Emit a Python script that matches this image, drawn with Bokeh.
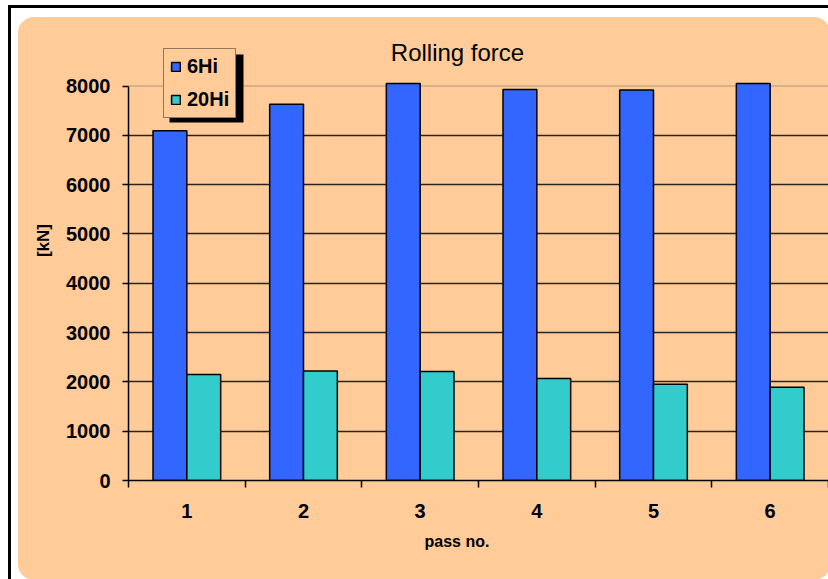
import math
from bokeh.plotting import figure
from bokeh.models import (ColumnDataSource, FixedTicker, Legend, LegendItem, Label,
                          BoxAnnotation, Span, Range1d, Title)
from bokeh.transform import dodge
from bokeh.embed import file_html
from bokeh.resources import INLINE

# ---- data ----
passes = [1, 2, 3, 4, 5, 6]
force_6hi = [7090, 7630, 8050, 7930, 7920, 8050]
force_20hi = [2150, 2220, 2210, 2070, 1950, 1890]
series_names = ["6Hi", "20Hi"]
y_ticks = [0, 1000, 2000, 3000, 4000, 5000, 6000, 7000, 8000]
title_text = "Rolling force"
y_label = "[kN]"
x_label = "pass no."

PEACH = "#FFCC99"
BLUE = "#3366FF"
CYAN = "#33CCCC"
FONT = "Liberation Sans"

# layout (pixels)
W, H = 828, 579
FRAME_LEFT, FRAME_BOTTOM, TOP_TICK_PX = 128, 480, 85.5
y_top = y_ticks[-1] * FRAME_BOTTOM / (FRAME_BOTTOM - TOP_TICK_PX)

def y_at(px):
    return (FRAME_BOTTOM - px) * y_top / FRAME_BOTTOM

def x_at(px):
    return 0.5 + (px - FRAME_LEFT) * 6 / (W - FRAME_LEFT)

# page background: white, black frame lines, peach rounded panel (CSS layers)
P = PEACH
bg_images = [
    f"radial-gradient(circle at 100% 100%, {P} 15.5px, transparent 16.5px)",
    f"radial-gradient(circle at 0% 100%, {P} 15.5px, transparent 16.5px)",
    f"radial-gradient(circle at 100% 0%, {P} 15.5px, transparent 16.5px)",
    f"radial-gradient(circle at 0% 0%, {P} 15.5px, transparent 16.5px)",
    f"linear-gradient({P}, {P})",
    f"linear-gradient({P}, {P})",
    "linear-gradient(#000, #000)",
    "linear-gradient(#000, #000)",
]
bg_pos = ["18px 17px", "814px 17px", "18px 564px", "814px 564px",
          "34px 17px", "18px 33px", "8px 5px", "8px 5px"]
bg_size = ["16px 16px", "16px 16px", "16px 16px", "16px 16px",
           "780px 563px", "812px 531px", "3px 2000px", "2000px 3px"]

src = ColumnDataSource(dict(x=passes, a=force_6hi, b=force_20hi))

p = figure(width=W, height=H, output_backend="svg", toolbar_location=None,
           x_range=Range1d(0.5, 6.5), y_range=Range1d(0, y_top),
           min_border_left=FRAME_LEFT, min_border_right=0, min_border_top=0,
           min_border_bottom=H - FRAME_BOTTOM,
           border_fill_color=None, background_fill_color=None, outline_line_color=None,
           styles={"background-color": "white",
                   "background-image": ", ".join(bg_images),
                   "background-position": ", ".join(bg_pos),
                   "background-size": ", ".join(bg_size),
                   "background-repeat": "no-repeat"})
p.title.visible = False

# grid
p.xgrid.visible = False
p.ygrid.ticker = FixedTicker(ticks=y_ticks[1:-1])
p.ygrid.grid_line_color = "#2a2420"
p.ygrid.grid_line_width = 1.3
p.add_layout(Span(location=y_ticks[-1], dimension="width", line_color="#b39377",
                  line_width=1, level="underlay"))

# bars
r1 = p.vbar(x=dodge("x", -0.145, range=p.x_range), top="a", width=0.29, source=src,
            fill_color=BLUE, line_color="black", line_width=1.5)
r2 = p.vbar(x=dodge("x", 0.145, range=p.x_range), top="b", width=0.29, source=src,
            fill_color=CYAN, line_color="black", line_width=1.5)

# axes
p.yaxis.ticker = FixedTicker(ticks=y_ticks)
p.yaxis.bounds = (y_ticks[0], y_ticks[-1])
p.yaxis.major_tick_out = 6
p.yaxis.major_tick_in = 0
p.yaxis.minor_tick_out = 0
p.yaxis.major_label_standoff = 12
p.yaxis.axis_line_width = 1.5
p.yaxis.major_tick_line_width = 1.5
p.yaxis.axis_label = y_label
p.yaxis.axis_label_standoff = 10
p.yaxis.axis_label_text_font = FONT
p.yaxis.axis_label_text_font_size = "17px"
p.yaxis.axis_label_text_font_style = "bold"
p.yaxis.axis_label_text_color = "black"

bounds = [v - 0.5 for v in passes] + [passes[-1] + 0.5]
p.xaxis.ticker = FixedTicker(ticks=passes, minor_ticks=bounds)
p.xaxis.major_tick_out = 0
p.xaxis.major_tick_in = 0
p.xaxis.minor_tick_out = 7
p.xaxis.minor_tick_in = 0
p.xaxis.minor_tick_line_color = "black"
p.xaxis.minor_tick_line_width = 1.5
p.xaxis.axis_line_width = 1.5
p.xaxis.major_label_standoff = 16

for ax in (p.xaxis[0], p.yaxis[0]):
    ax.axis_line_color = "black"
    ax.major_label_text_font = FONT
    ax.major_label_text_font_size = "20px"
    ax.major_label_text_font_style = "bold"
    ax.major_label_text_color = "black"

# x axis title (below), shifted left like the reference
p.add_layout(Title(text=x_label, align="left", offset=296, text_font=FONT,
                   text_font_size="16px", text_font_style="bold", text_color="black",
                   standoff=21), "below")

# chart title
p.add_layout(Label(x=x_at(457), y=y_at(52), text=title_text, text_align="center",
                   text_baseline="alphabetic", text_font=FONT, text_font_size="24px",
                   text_color="black"))

# legend shadow + legend
p.add_layout(BoxAnnotation(left=169, right=243, top=54, bottom=122,
                           left_units="canvas", right_units="canvas",
                           top_units="canvas", bottom_units="canvas",
                           fill_color="black", fill_alpha=1, line_color=None))
legend = Legend(items=[LegendItem(label=series_names[0], renderers=[r1]),
                       LegendItem(label=series_names[1], renderers=[r2])],
                location=(163 - FRAME_LEFT, FRAME_BOTTOM - 118), orientation="vertical",
                border_line_color="#222222", border_line_width=1.5,
                background_fill_color=PEACH, background_fill_alpha=1,
                padding=6, spacing=10, margin=0,
                glyph_width=11, glyph_height=11, label_height=20, label_standoff=6,
                label_text_font=FONT, label_text_font_size="20px",
                label_text_font_style="bold", label_text_color="black")
p.add_layout(legend, "center")

open("out.html", "w").write(file_html(p, INLINE))
